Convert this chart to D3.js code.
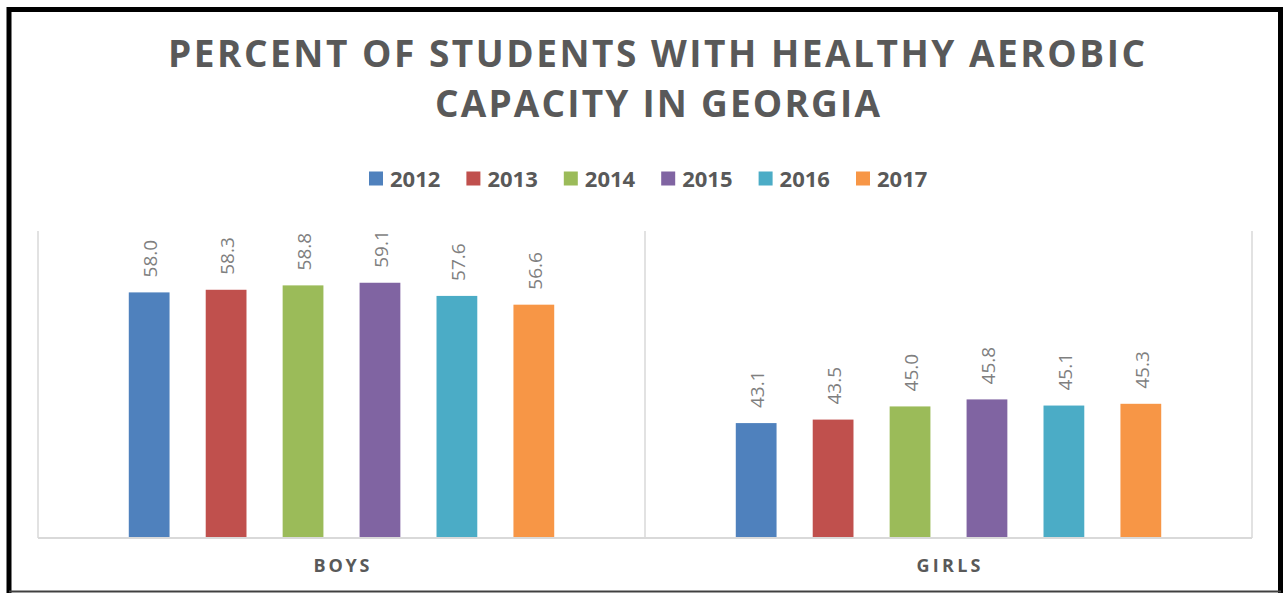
<!DOCTYPE html>
<meta charset="utf-8">
<html>
<head>
<script src="https://d3js.org/d3.v7.min.js"></script>
<style>
body { margin: 0; background: #ffffff; }
svg { display: block; }
</style>
</head>
<body>
<div id="chart"></div>
<script>

// data
var groups = ["BOYS", "GIRLS"];
var years = ["2012", "2013", "2014", "2015", "2016", "2017"];
var boys = [58.0, 58.3, 58.8, 59.1, 57.6, 56.6];
var girls = [43.1, 43.5, 45.0, 45.8, 45.1, 45.3];
var colors = ["#4f81bd", "#c0504d", "#9bbb59", "#8064a2", "#4bacc6", "#f79646"];

var W = 1283, H = 593;
var plot = {left: 38, right: 1252, top: 231, bottom: 538};

var svg = d3.select("#chart")
  .append("svg")
    .attr("width", W)
    .attr("height", H);

svg.append("rect").attr("width", W).attr("height", H).attr("fill", "#fff");

// frame
svg.append("path")
  .attr("d", "M9,593 L9,9.5 L1280.5,9.5 L1280.5,593")
  .attr("fill", "none")
  .attr("stroke", "#000")
  .attr("stroke-width", 5);
svg.append("line")
  .attr("x1", 9).attr("x2", 1281)
  .attr("y1", 591.5).attr("y2", 591.5)
  .attr("stroke", "#404040")
  .attr("stroke-width", 2);

// title
var title = ["PERCENT OF STUDENTS WITH HEALTHY AEROBIC", "CAPACITY IN GEORGIA"];
var titleX = [168, 435], titleLen = [977, 445], titleY = [67, 117];
title.forEach(function(t, i) {
  svg.append("text")
    .attr("x", titleX[i])
    .attr("y", titleY[i])
    .attr("textLength", titleLen[i])
    .attr("lengthAdjust", "spacing")
    .style("font-family", "'Open Sans', sans-serif")
    .style("font-weight", "700")
    .style("font-size", "37px")
    .style("fill", "#595959")
    .text(t);
});

// legend
var legend = svg.append("g").attr("transform", "translate(369,0)");
years.forEach(function(y, i) {
  var g = legend.append("g").attr("transform", "translate(" + (i * 97.4) + ",0)");
  g.append("rect")
    .attr("x", 0).attr("y", 171.5)
    .attr("width", 14).attr("height", 14)
    .attr("fill", colors[i]);
  g.append("text")
    .attr("x", 21).attr("y", 186.5)
    .style("font-family", "'Open Sans', sans-serif")
    .style("font-weight", "700")
    .style("font-size", "22px")
    .style("fill", "#595959")
    .text(y);
});

// scales
var x0 = d3.scaleBand()
  .domain(groups)
  .range([plot.left, plot.right])
  .padding(0);

var x1 = d3.scaleBand()
  .domain(years)
  .range([0, x0.bandwidth()])
  .paddingInner(0.47)
  .paddingOuter(1.18);

var y = d3.scaleLinear()
  .domain([30, 65])
  .range([plot.bottom, plot.top]);

// vertical category lines
var edges = [x0.range()[0]].concat(groups.map(function(g) { return x0(g) + x0.bandwidth(); }));
svg.append("g")
  .selectAll("line")
  .data(edges)
  .enter()
  .append("line")
    .attr("x1", function(d) { return d; })
    .attr("x2", function(d) { return d; })
    .attr("y1", y.range()[1])
    .attr("y2", y.range()[0])
    .attr("stroke", "#d9d9d9")
    .attr("stroke-width", 1.5);

// bars
var rows = groups.map(function(g, gi) {
  var vals = gi === 0 ? boys : girls;
  return years.map(function(yr, i) { return {group: g, year: yr, value: vals[i], color: colors[i]}; });
});

var gg = svg.append("g")
  .selectAll("g")
  .data(rows)
  .enter()
  .append("g")
    .attr("transform", function(d) { return "translate(" + x0(d[0].group) + ",0)"; });

gg.selectAll("rect")
  .data(function(d) { return d; })
  .enter()
  .append("rect")
    .attr("x", function(d) { return x1(d.year); })
    .attr("y", function(d) { return y(d.value); })
    .attr("width", x1.bandwidth())
    .attr("height", function(d) { return y.range()[0] - y(d.value); })
    .attr("fill", function(d) { return d.color; });

gg.selectAll("text")
  .data(function(d) { return d; })
  .enter()
  .append("text")
    .attr("transform", function(d) {
      return "translate(" + (x1(d.year) + x1.bandwidth() / 2 + 1) + "," + (y(d.value) - 15) + ") rotate(-90)";
    })
    .attr("dy", "0.36em")
    .style("font-family", "'Open Sans', sans-serif")
    .style("font-size", "19px")
    .style("fill", "#7f7f7f")
    .text(function(d) { return d.value.toFixed(1); });

// x axis line
svg.append("line")
  .attr("x1", plot.left).attr("x2", plot.right)
  .attr("y1", y.range()[0]).attr("y2", y.range()[0])
  .attr("stroke", "#d9d9d9")
  .attr("stroke-width", 2);

// category labels
var catLen = {BOYS: 56, GIRLS: 64};
svg.append("g")
  .selectAll("text")
  .data(groups)
  .enter()
  .append("text")
    .attr("x", function(d) { return x0(d) + x0.bandwidth() / 2 - catLen[d] / 2; })
    .attr("y", 571.5)
    .attr("textLength", function(d) { return catLen[d]; })
    .attr("lengthAdjust", "spacing")
    .style("font-family", "'Open Sans', sans-serif")
    .style("font-weight", "700")
    .style("font-size", "18px")
    .style("fill", "#595959")
    .text(function(d) { return d; });

</script>
</body>
</html>
